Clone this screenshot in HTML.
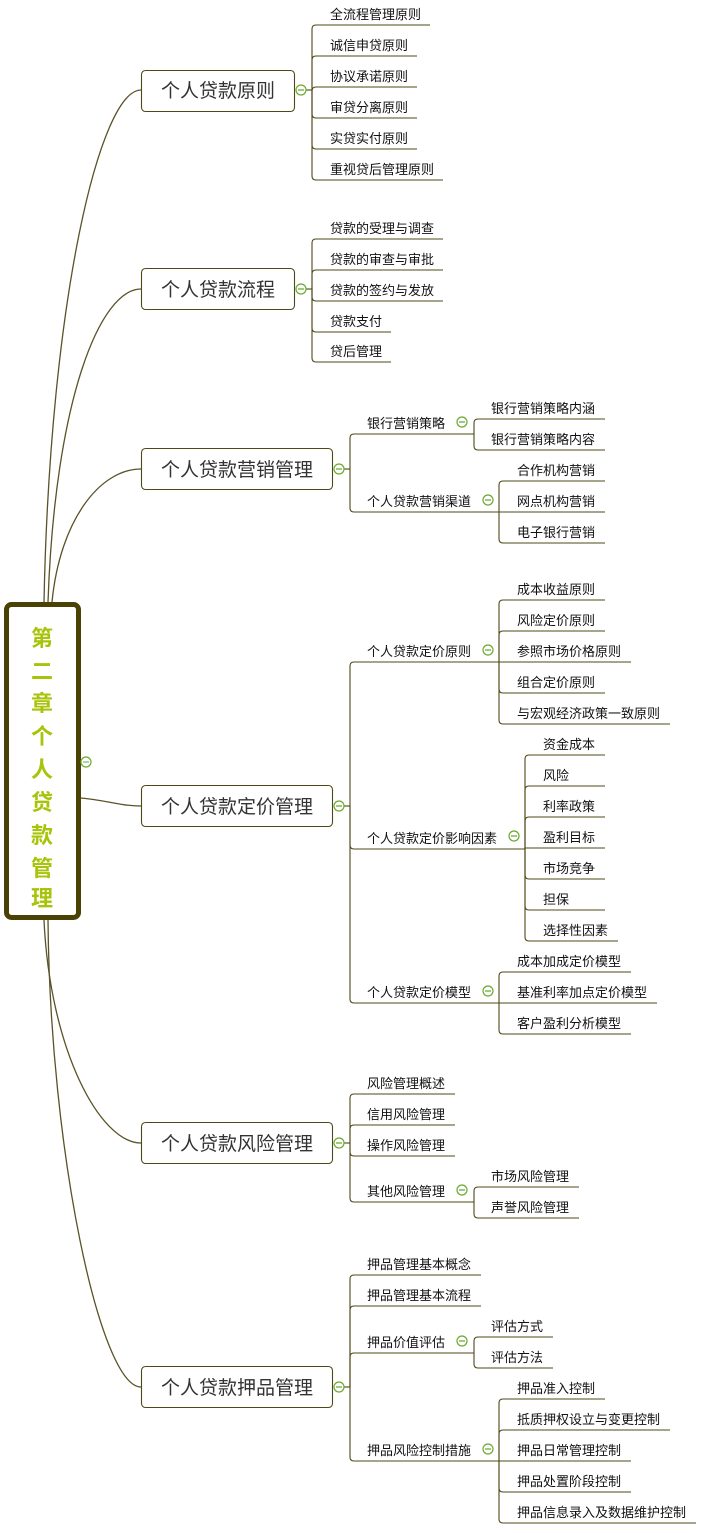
<!DOCTYPE html>
<html><head><meta charset="utf-8"><style>
html,body{margin:0;padding:0;background:#fff;}
svg text{font-family:"Liberation Sans","Noto Sans CJK SC",sans-serif;}
.l{font-size:13px;fill:#111;}
.b{font-size:19px;fill:#333;}
.k{fill:none;stroke:#4f4818;stroke-width:1.1;}
.c{fill:#fff;stroke:#6aaa30;stroke-width:1.2;}
</style></head><body>
<svg width="703" height="1528" viewBox="0 0 703 1528" xmlns="http://www.w3.org/2000/svg">
<!-- root curves -->
<g fill="none" stroke="#5a5228" stroke-width="1.3">
<path d="M44,602 C50,300 100,90 141,90"/>
<path d="M48,602 C55,400 100,289 141,289"/>
<path d="M52,602 C60,520 100,469 141,469"/>
<path d="M81,798 C105,800 120,806 141,806"/>
<path d="M44,920 C50,1050 100,1143 141,1143"/>
<path d="M48,920 C50,1150 100,1387 141,1387"/>
</g>
<!-- root -->
<rect x="6.5" y="604.5" width="72" height="313" rx="5" fill="#fff" stroke="#4a4205" stroke-width="5"/>
<g font-size="22" font-weight="bold" fill="#a8c40a" text-anchor="middle" style="font-family:'Liberation Sans','Noto Sans CJK SC',sans-serif">
<text x="42" y="646">第</text><text x="42" y="679">二</text><text x="42" y="711">章</text><text x="42" y="744">个</text><text x="42" y="777">人</text><text x="42" y="810">贷</text><text x="42" y="843">款</text><text x="42" y="876">管</text><text x="42" y="906">理</text>
</g>
<circle class="c" cx="86" cy="762" r="5"/><line x1="83" y1="762" x2="89" y2="762" stroke="#6aaa30"/>

<!-- boxes -->
<g fill="#fff" stroke="#4f4818" stroke-width="1.1">
<rect x="141.5" y="70.5" width="153" height="41" rx="4"/>
<rect x="141.5" y="268.5" width="153" height="41" rx="4"/>
<rect x="141.5" y="448.5" width="191" height="41" rx="4"/>
<rect x="141.5" y="785.5" width="191" height="41" rx="4"/>
<rect x="141.5" y="1122.5" width="191" height="41" rx="4"/>
<rect x="141.5" y="1366.5" width="191" height="41" rx="4"/>
</g>
<text class="b" x="218" y="97" text-anchor="middle">个人贷款原则</text>
<text class="b" x="218" y="296" text-anchor="middle">个人贷款流程</text>
<text class="b" x="237" y="476" text-anchor="middle">个人贷款营销管理</text>
<text class="b" x="237" y="813" text-anchor="middle">个人贷款定价管理</text>
<text class="b" x="237" y="1150" text-anchor="middle">个人贷款风险管理</text>
<text class="b" x="237" y="1394" text-anchor="middle">个人贷款押品管理</text>

<!-- connectors -->
<g class="k">
<!-- 原则 -->
<path d="M306,90 H312"/>
<path d="M312,90 V29 Q312,25 316,25 H430"/>
<path d="M312,90 V60 Q312,56 316,56 H417"/>
<path d="M312,90 V91 Q312,87 316,87 H417"/>
<path d="M312,90 V114 Q312,118 316,118 H417"/>
<path d="M312,90 V145 Q312,149 316,149 H417"/>
<path d="M312,90 V176 Q312,180 316,180 H443"/>
<!-- 流程 -->
<path d="M306,289 H312"/>
<path d="M312,289 V243 Q312,239 316,239 H443"/>
<path d="M312,289 V274 Q312,270 316,270 H443"/>
<path d="M312,289 V297 Q312,301 316,301 H443"/>
<path d="M312,289 V328 Q312,332 316,332 H391"/>
<path d="M312,289 V358 Q312,362 316,362 H391"/>
<!-- 营销 -->
<path d="M344,469 H350"/>
<path d="M350,469 V438 Q350,434 354,434 H474"/>
<path d="M350,469 V508 Q350,512 354,512 H499"/>
<path d="M474,434 V423 Q474,419 478,419 H605"/>
<path d="M474,434 V446 Q474,450 478,450 H605"/>
<path d="M499,512 V485 Q499,481 503,481 H605"/>
<path d="M499,512 V512 H605"/>
<path d="M499,512 V539 Q499,543 503,543 H605"/>
<!-- 定价 -->
<path d="M344,806 H350"/>
<path d="M350,806 V666 Q350,662 354,662 H499"/>
<path d="M350,806 V845 Q350,849 354,849 H525"/>
<path d="M350,806 V999 Q350,1003 354,1003 H499"/>
<path d="M499,662 V604 Q499,600 503,600 H605"/>
<path d="M499,662 V635 Q499,631 503,631 H605"/>
<path d="M499,662 H631"/>
<path d="M499,662 V689 Q499,693 503,693 H605"/>
<path d="M499,662 V720 Q499,724 503,724 H670"/>
<path d="M525,849 V759 Q525,755 529,755 H605"/>
<path d="M525,849 V790 Q525,786 529,786 H605"/>
<path d="M525,849 V821 Q525,817 529,817 H605"/>
<path d="M525,849 V848 Q525,848 529,848 H605"/>
<path d="M525,849 V875 Q525,879 529,879 H605"/>
<path d="M525,849 V906 Q525,910 529,910 H605"/>
<path d="M525,849 V937 Q525,941 529,941 H618"/>
<path d="M499,1003 V976 Q499,972 503,972 H631"/>
<path d="M499,1003 H657"/>
<path d="M499,1003 V1030 Q499,1034 503,1034 H631"/>
<!-- 风险 -->
<path d="M344,1143 H350"/>
<path d="M350,1143 V1098 Q350,1094 354,1094 H455"/>
<path d="M350,1143 V1129 Q350,1125 354,1125 H455"/>
<path d="M350,1143 V1152 Q350,1156 354,1156 H455"/>
<path d="M350,1143 V1198 Q350,1202 354,1202 H474"/>
<path d="M474,1202 V1191 Q474,1187 478,1187 H579"/>
<path d="M474,1202 V1214 Q474,1218 478,1218 H579"/>
<!-- 押品 -->
<path d="M344,1387 H350"/>
<path d="M350,1387 V1279 Q350,1275 354,1275 H481"/>
<path d="M350,1387 V1310 Q350,1306 354,1306 H481"/>
<path d="M350,1387 V1357 Q350,1353 354,1353 H474"/>
<path d="M350,1387 V1457 Q350,1461 354,1461 H499"/>
<path d="M474,1353 V1341 Q474,1337 478,1337 H553"/>
<path d="M474,1353 V1364 Q474,1368 478,1368 H553"/>
<path d="M499,1461 V1403 Q499,1399 503,1399 H605"/>
<path d="M499,1461 V1434 Q499,1430 503,1430 H670"/>
<path d="M499,1461 H631"/>
<path d="M499,1461 V1488 Q499,1492 503,1492 H631"/>
<path d="M499,1461 V1519 Q499,1523 503,1523 H696"/>
</g>

<!-- collapse circles -->
<g>
<circle class="c" cx="301" cy="90" r="5"/><circle class="c" cx="301" cy="289" r="5"/>
<circle class="c" cx="339" cy="469" r="5"/><circle class="c" cx="339" cy="806" r="5"/>
<circle class="c" cx="339" cy="1143" r="5"/><circle class="c" cx="339" cy="1387" r="5"/>
<circle class="c" cx="462" cy="422" r="5"/><circle class="c" cx="488" cy="500" r="5"/>
<circle class="c" cx="488" cy="650" r="5"/><circle class="c" cx="514" cy="836" r="5"/>
<circle class="c" cx="488" cy="991" r="5"/><circle class="c" cx="462" cy="1190" r="5"/>
<circle class="c" cx="462" cy="1341" r="5"/><circle class="c" cx="488" cy="1449" r="5"/>
</g>
<g stroke="#6aaa30" stroke-width="1.2">
<path d="M298,90h6M298,289h6M336,469h6M336,806h6M336,1143h6M336,1387h6M459,422h6M485,500h6M485,650h6M511,836h6M485,991h6M459,1190h6M459,1341h6M485,1449h6"/>
</g>

<!-- leaf texts -->
<g class="l">
<text x="330" y="19">全流程管理原则</text>
<text x="330" y="50">诚信申贷原则</text>
<text x="330" y="81">协议承诺原则</text>
<text x="330" y="112">审贷分离原则</text>
<text x="330" y="143">实贷实付原则</text>
<text x="330" y="174">重视贷后管理原则</text>

<text x="330" y="233">贷款的受理与调查</text>
<text x="330" y="264">贷款的审查与审批</text>
<text x="330" y="295">贷款的签约与发放</text>
<text x="330" y="326">贷款支付</text>
<text x="330" y="356">贷后管理</text>

<text x="367" y="428">银行营销策略</text>
<text x="367" y="506">个人贷款营销渠道</text>
<text x="491" y="413">银行营销策略内涵</text>
<text x="491" y="444">银行营销策略内容</text>
<text x="517" y="475">合作机构营销</text>
<text x="517" y="506">网点机构营销</text>
<text x="517" y="537">电子银行营销</text>

<text x="367" y="656">个人贷款定价原则</text>
<text x="367" y="843">个人贷款定价影响因素</text>
<text x="367" y="997">个人贷款定价模型</text>
<text x="517" y="594">成本收益原则</text>
<text x="517" y="625">风险定价原则</text>
<text x="517" y="656">参照市场价格原则</text>
<text x="517" y="687">组合定价原则</text>
<text x="517" y="718">与宏观经济政策一致原则</text>
<text x="543" y="749">资金成本</text>
<text x="543" y="780">风险</text>
<text x="543" y="811">利率政策</text>
<text x="543" y="842">盈利目标</text>
<text x="543" y="873">市场竞争</text>
<text x="543" y="904">担保</text>
<text x="543" y="935">选择性因素</text>
<text x="517" y="966">成本加成定价模型</text>
<text x="517" y="997">基准利率加点定价模型</text>
<text x="517" y="1028">客户盈利分析模型</text>

<text x="367" y="1088">风险管理概述</text>
<text x="367" y="1119">信用风险管理</text>
<text x="367" y="1150">操作风险管理</text>
<text x="367" y="1196">其他风险管理</text>
<text x="491" y="1181">市场风险管理</text>
<text x="491" y="1212">声誉风险管理</text>

<text x="367" y="1269">押品管理基本概念</text>
<text x="367" y="1300">押品管理基本流程</text>
<text x="367" y="1347">押品价值评估</text>
<text x="367" y="1455">押品风险控制措施</text>
<text x="491" y="1331">评估方式</text>
<text x="491" y="1362">评估方法</text>
<text x="517" y="1393">押品准入控制</text>
<text x="517" y="1424">抵质押权设立与变更控制</text>
<text x="517" y="1455">押品日常管理控制</text>
<text x="517" y="1486">押品处置阶段控制</text>
<text x="517" y="1517">押品信息录入及数据维护控制</text>
</g>
</svg>
</body></html>
